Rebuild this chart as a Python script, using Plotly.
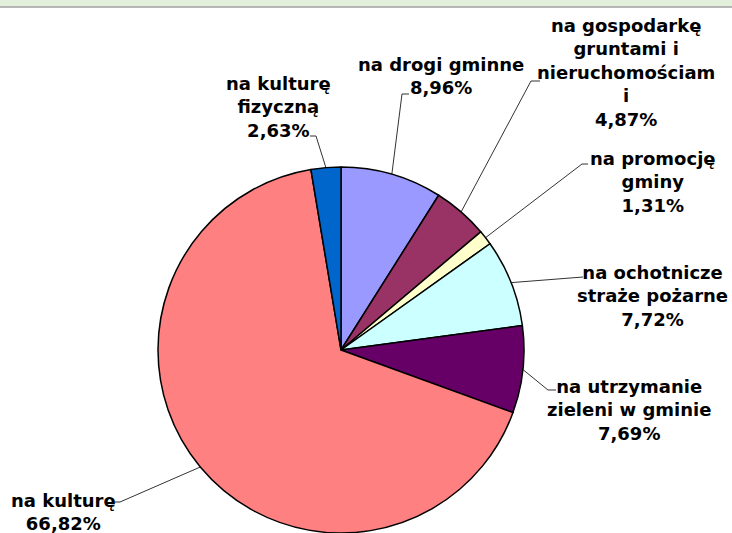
import math
import plotly.graph_objects as go

# data, clockwise from 12 o'clock
names = ['na drogi gminne', 'na gospodarkę<br>gruntami i<br>nieruchomościam<br>i', 'na promocję<br>gminy',
         'na ochotnicze<br>straże pożarne', 'na utrzymanie<br>zieleni w gminie', 'na kulturę',
         'na kulturę<br>fizyczną']
values = [8.96, 4.87, 1.31, 7.72, 7.69, 66.82, 2.63]
colors = ['#9999FF', '#993366', '#FFFFCC', '#CCFFFF', '#660066', '#FF8080', '#0066CC']

W, H = 732, 533
cx, cy, r = 341, 350, 183

# label block centres and leader-line elbow / end (pixels)
label_pos = [(441, 76), (626, 72), (653, 182), (652, 296), (629, 410), (63, 512), (278, 107)]
elbows = [(402, 94), (531, 81), (582, 164), (578, 277), (548, 390), (120, 502), (316, 136)]
ends = [(409, 94), (540, 81), (588, 164), (583, 277), (556, 390), (115, 502), (310, 136)]

fig = go.Figure()
fig.add_trace(go.Pie(
    values=values,
    labels=[n.replace('<br>', ' ') for n in names],
    marker=dict(colors=colors, line=dict(color='black', width=1.5)),
    sort=False, direction='clockwise', rotation=0,
    textinfo='none', hoverinfo='skip', showlegend=False,
    domain=dict(x=[(cx - r) / W, (cx + r) / W], y=[(H - cy - r) / H, (H - cy + r) / H]),
))

# leader lines from the middle of each slice
total = sum(values)
lx, ly = [], []
cum = 0
for v, e, t in zip(values, elbows, ends):
    a = math.radians(360 * (cum + v / 2) / total)
    cum += v
    lx += [cx + r * math.sin(a), e[0], t[0], None]
    ly += [cy - r * math.cos(a), e[1], t[1], None]
fig.add_trace(go.Scatter(x=lx, y=ly, mode='lines', line=dict(color='#333333', width=1),
                         hoverinfo='skip', showlegend=False))

for n, v, (px, py) in zip(names, values, label_pos):
    pct = f'{v:.2f}'.replace('.', ',') + '%'
    fig.add_annotation(x=px, y=py, xref='x', yref='y', text=f'{n}<br>{pct}', showarrow=False,
                       align='center', font=dict(family='DejaVu Sans', size=18, color='black', weight='bold'))

fig.add_shape(type='rect', xref='paper', yref='paper', x0=0, x1=1, y0=1 - 7 / H, y1=1,
              fillcolor='#E2EFDA', line=dict(width=0), layer='below')
fig.add_shape(type='line', xref='paper', yref='paper', x0=0, x1=1, y0=1 - 7 / H, y1=1 - 7 / H,
              line=dict(color='#A0A0A0', width=1.5))

fig.update_layout(width=W, height=H, margin=dict(l=0, r=0, t=0, b=0),
                  paper_bgcolor='white', plot_bgcolor='rgba(0,0,0,0)',
                  xaxis=dict(range=[0, W], visible=False, fixedrange=True),
                  yaxis=dict(range=[H, 0], visible=False, fixedrange=True))
fig.write_html('out.html', config={'displayModeBar': False},
               post_script="document.body.style.margin='0';document.body.style.overflow='hidden';")
